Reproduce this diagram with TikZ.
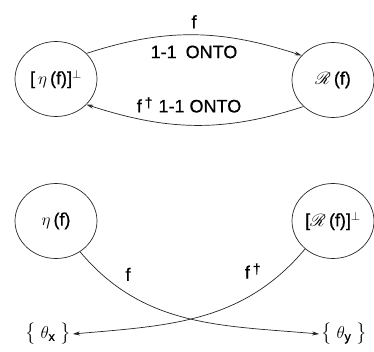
\documentclass[tikz,border=0pt]{standalone}
\usepackage{amsmath,amssymb}
\usepackage{mathrsfs}
\usepackage{fontspec}
\setmainfont{Liberation Sans}[FakeBold=0.7]
\usetikzlibrary{arrows.meta,positioning,shapes.geometric}

\newcommand{\dg}{{\fontsize{14}{14}\selectfont\raisebox{5pt}{\textdagger}}}

\begin{document}
\begin{tikzpicture}[>={Stealth[length=7pt,width=4pt]}, x=1pt, y=1pt,
  font=\fontsize{18}{21}\selectfont,
  space/.style={draw=black!85, ellipse, minimum width=82pt, minimum height=75pt,
    inner sep=0pt, line width=0.7pt},
  map/.style={->, draw=black!85, line width=0.7pt}]
\useasboundingbox (0,0) rectangle (374,351);
% top pair: the 1-1 onto correspondence
\node[space] (nperp) at (56,272) {[\,$\eta$\,(f)]$^{\perp}$};
\node[space] (range) at (333,271) {$\mathscr{R}$\,(f)};
\draw[map] (nperp.40) to[out=18, in=162]
  node[above=3pt] (lf) {f}
  node[below=7pt] (lonto) {1-1\enspace ONTO} (range.142);
\draw[map] (range.222) to[out=198, in=-18]
  node[above=9pt, xshift=-6pt] (lfd) {f\,\dg\,\,1-1 ONTO} (nperp.-40);
% bottom pair: maps into the bases
\node[space] (null) at (56,130) {$\eta$\,(f)};
\node[space] (rperp) at (333,130) {[$\mathscr{R}$\,(f)]$^{\perp}$};
\node[inner sep=2pt] (thx) at (48,17) {$\bigl\{\;\theta_{\text{x}}\;\bigr\}$};
\node[inner sep=2pt] (thy) at (344,17) {$\bigl\{\;\theta_{\text{y}}\;\bigr\}$};
\draw[map] (null.-52) to[out=-50, in=175]
  node[pos=0.2, above right=4pt and 2pt] (lf2) {f} (thy.west);
\draw[map] (rperp.-135) to[out=-130, in=5]
  node[pos=0.2, above left=3pt and 2pt] (lfd2) {f\,\dg} (thx.east);
\end{tikzpicture}
\end{document}
